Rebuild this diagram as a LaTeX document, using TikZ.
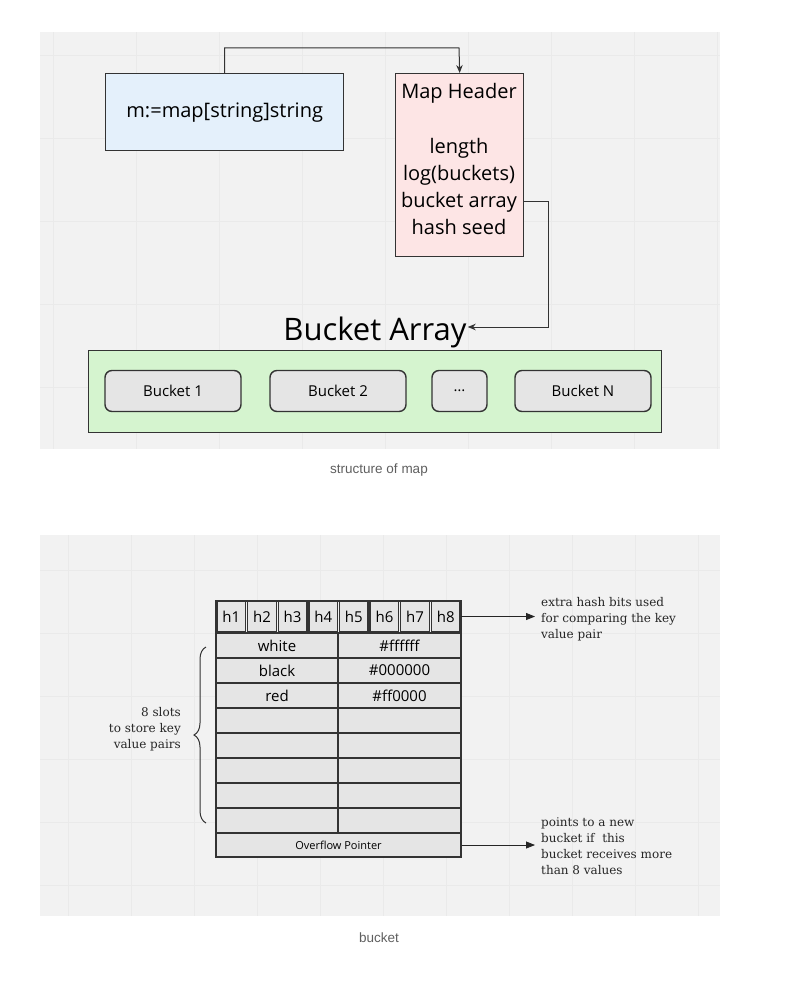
\documentclass[tikz,border=0pt]{standalone}
\usepackage{fontspec}
\setmainfont{Open Sans}
\newfontfamily\slab{DejaVu Serif}
\newfontfamily\capfont{Liberation Sans}
\usetikzlibrary{arrows.meta,positioning,decorations.pathreplacing}
\definecolor{panel}{HTML}{F2F2F2}
\definecolor{gridcol}{HTML}{EAEAEA}
\definecolor{rand}{HTML}{333333}
\definecolor{blau}{HTML}{E4F0FB}
\definecolor{rosa}{HTML}{FDE5E5}
\definecolor{gruen}{HTML}{D5F4CF}
\definecolor{zellgrau}{HTML}{E5E5E5}
\definecolor{capgrau}{HTML}{5F5F5F}
\tikzset{
	gitter/.style={gridcol,line width=0.7pt},
	kasten/.style={draw=rand,line width=1.4pt,inner sep=0pt},
	eimer/.style={kasten,fill=zellgrau,rounded corners=7pt,minimum height=41,font=\fontsize{15}{18}\selectfont},
	fach/.style={kasten,fill=zellgrau,font=\fontsize{15}{18}\selectfont},
	htext/.style={anchor=base,inner sep=1pt,font=\fontsize{20}{24}\selectfont},
	pfeil/.style={rand,line width=1pt,-{Stealth[length=8pt,width=6.5pt]}},
	zeiger/.style={black!85,line width=0.8pt,-{Triangle[length=9pt,width=7pt]},shorten >=6pt},
	notiz/.style={font=\slab\fontsize{12}{16}\selectfont,text=black!85,inner sep=0pt,align=left,anchor=west},
	capt/.style={font=\capfont\fontsize{13.5}{15}\selectfont,text=capgrau}
}
\begin{document}
\begin{tikzpicture}[x=1pt,y=-1pt]
		\useasboundingbox (0,0) rectangle (803,982);
		% Hintergrund oben und unten
		\fill[panel] (40,32) rectangle (720,449);
		\fill[panel] (40,535) rectangle (720,916);
		\foreach \x in {53,136,...,720} \draw[gitter] (\x,32) -- (\x,449);
		\foreach \y in {55,138,...,449} \draw[gitter] (40,\y) -- (720,\y);
		\foreach \x in {68,131,...,720} \draw[gitter] (\x,535) -- (\x,916);
		\foreach \y in {570,633,...,916} \draw[gitter] (40,\y) -- (720,\y);
		% Deklaration und Map Header
		\node[kasten,fill=blau,minimum width=238,minimum height=77,anchor=north west,font=\fontsize{20}{24}\selectfont] (decl) at (105,73) {m:=map[string]string};
		\node[kasten,fill=rosa,minimum width=128,minimum height=183,anchor=north west] (kopf) at (395,73) {};
		\node[htext] (htitel) at (459,98) {Map Header};
		\node[htext] (hlen) at (459,153) {length};
		\node[htext] (hlog) at (459,180) {log(buckets)};
		\node[htext] (hbar) at (459,207) {bucket array};
		\node[htext] (hseed) at (459,234) {hash seed};
		\coordinate (knick) at (459,48);
		\draw[pfeil] (decl.north) |- (knick) -- (kopf.north);
		% Bucket Array
		\node[anchor=base,inner sep=1pt,font=\fontsize{31}{36}\selectfont] (arrtitel) at (375,340) {Bucket Array};
		\coordinate (knick2) at (548,327);
		\draw[pfeil] (kopf.east |- hbar) -| (knick2) -- (arrtitel.east |- knick2);
		\node[kasten,fill=gruen,minimum width=573,minimum height=82,anchor=north west] (barr) at (88,350) {};
		\foreach \n/\x/\w/\t in {b1/173/136/Bucket 1,b2/338/136/Bucket 2,bdots/459.5/55/\ldots,bn/583/136/Bucket N}
		\node[eimer,minimum width=\w] (\n) at (\x,391) {\t};
		\node[capt] (cap1) at (379,470) {structure of map};
		% Bucket: Hashbits
		\foreach \i in {1,...,8}
		\node[fach,minimum width=28.6,minimum height=31] (h\i) at ({216+30.625*(\i-0.5)},616.5) {h\i};
		% Bucket: 8 Slots
		\foreach \r in {1,...,8}{
			\node[fach,minimum width=122,minimum height=25] (k\r) at (277,{620.5+25*\r}) {};
			\node[fach,minimum width=123,minimum height=25] (v\r) at (399.5,{620.5+25*\r}) {};
		}
		\foreach \r/\k/\v in {1/white/\#ffffff,2/black/\#000000,3/red/\#ff0000}{
			\node[font=\fontsize{15}{18}\selectfont] at (k\r) {\k};
			\node[font=\fontsize{15}{18}\selectfont] at (v\r) {\v};
		}
		\node[fach,minimum width=245,minimum height=24,font=\fontsize{11}{13}\selectfont] (ueber) at (338.5,845) {Overflow Pointer};
		\draw[rand,line width=1.4pt] (216,601) rectangle (461,857);
		% Klammer links
		\draw[rand,line width=1pt,decorate,decoration={brace,amplitude=12pt}] (206,823) -- (206,647);
		\node[notiz,anchor=east,align=right] (slots) at (181,729) {8 slots\\to store key\\value pairs};
		% Notizen rechts
		\node[notiz] (hnotiz) at (541,619) {extra hash bits used\\for comparing the key\\value pair};
		\draw[zeiger] (h8.east) -- (h8.east -| hnotiz.west);
		\node[notiz] (onotiz) at (541,846) {points to a new\\bucket if\ \ this\\bucket receives more\\than 8 values};
		\draw[zeiger] (ueber.east) -- (ueber.east -| onotiz.west);
		\node[capt] (cap2) at (379,938) {bucket};
	\end{tikzpicture}
\end{document}
